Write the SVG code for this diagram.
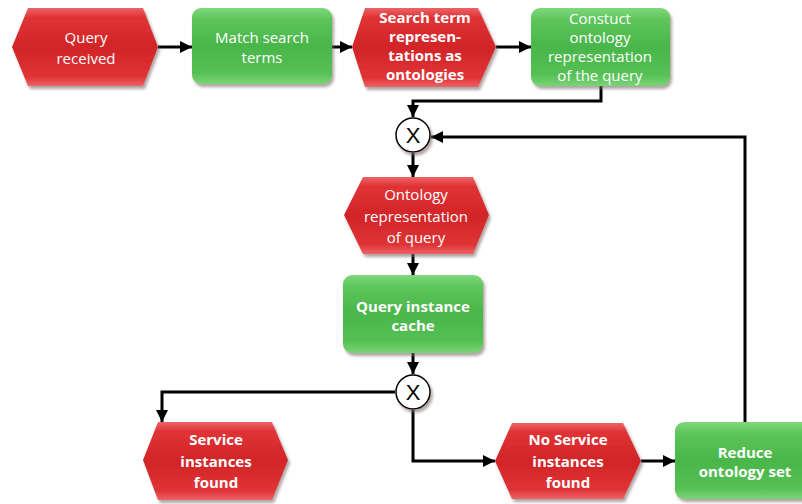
<svg xmlns="http://www.w3.org/2000/svg" width="802" height="504" viewBox="0 0 802 504">
<defs>
<linearGradient id="gRed" x1="0" y1="0" x2="0" y2="1">
<stop offset="0" stop-color="#ec6467"/>
<stop offset="0.12" stop-color="#e03336"/>
<stop offset="0.5" stop-color="#d22528"/>
<stop offset="0.88" stop-color="#e03336"/>
<stop offset="1" stop-color="#ec6467"/>
</linearGradient>
<linearGradient id="gGreen" x1="0" y1="0" x2="0" y2="1">
<stop offset="0" stop-color="#80d87c"/>
<stop offset="0.15" stop-color="#5dc55b"/>
<stop offset="0.5" stop-color="#49b64a"/>
<stop offset="0.85" stop-color="#55c054"/>
<stop offset="1" stop-color="#7ad577"/>
</linearGradient>
<filter id="sh" x="-10%" y="-10%" width="130%" height="140%">
<feDropShadow dx="2" dy="3" stdDeviation="1.5" flood-color="#7a6a66" flood-opacity="0.6"/>
</filter>
<marker id="arr" viewBox="0 0 12 12" refX="12" refY="6" markerWidth="12" markerHeight="12" markerUnits="userSpaceOnUse" orient="auto">
<path d="M0,0 L12,6 L0,12 z" fill="#000"/>
</marker>
<style>
.ev{fill:url(#gRed);filter:url(#sh);}
.fn{fill:url(#gGreen);filter:url(#sh);}
.t{font-family:"Open Sans","Liberation Sans",sans-serif;font-size:15px;fill:#fff;text-anchor:middle;}
.b{font-weight:bold;}
.c{fill:none;stroke:#000;stroke-width:3;}
.x{fill:#fff;stroke:#000;stroke-width:1.5;filter:url(#sh);}
.xt{font-family:"Liberation Sans",sans-serif;font-size:22px;fill:#000;text-anchor:middle;}
</style>
</defs>

<g id="connectors">
<path class="c" d="M158,47 L192,47" marker-end="url(#arr)"/>
<path class="c" d="M332,47 L352,47" marker-end="url(#arr)"/>
<path class="c" d="M496,47 L531,47" marker-end="url(#arr)"/>
<path class="c" d="M601,86 L601,101 L413,101 L413,117" marker-end="url(#arr)"/>
<path class="c" d="M745,422 L745,137 L431,137" marker-end="url(#arr)"/>
<path class="c" d="M413,153 L413,177" marker-end="url(#arr)"/>
<path class="c" d="M413,254 L413,275" marker-end="url(#arr)"/>
<path class="c" d="M413,353 L413,374" marker-end="url(#arr)"/>
<path class="c" d="M395,392 L162,392 L162,422" marker-end="url(#arr)"/>
<path class="c" d="M413,410 L413,461 L495,461" marker-end="url(#arr)"/>
<path class="c" d="M641,461 L675,461" marker-end="url(#arr)"/>
</g>

<g id="query-received">
<polygon class="ev" points="12,47 28,8 143,8 158,47 143,86 28,86"/>
<text class="t" x="86" y="43" font-size="16.5">Query</text>
<text class="t" x="86" y="64" font-size="16.5">received</text>
</g>

<g id="match-search-terms">
<rect class="fn" x="192" y="8" width="140" height="76" rx="9"/>
<text class="t" x="262" y="43" font-size="14.5">Match search</text>
<text class="t" x="262" y="63" font-size="14.5">terms</text>
</g>

<g id="search-term-representations">
<polygon class="ev" points="352,47 365,8 478,8 496,47 478,87 365,87"/>
<text class="t b" x="425" y="23" font-size="12.5">Search term</text>
<text class="t b" x="425" y="42" font-size="12.5">represen-</text>
<text class="t b" x="425" y="61" font-size="12.5">tations as</text>
<text class="t b" x="425" y="80" font-size="12.5">ontologies</text>
</g>

<g id="construct-ontology">
<rect class="fn" x="531" y="8" width="139" height="78" rx="9"/>
<text class="t" x="600" y="24" font-size="14">Constuct</text>
<text class="t" x="600" y="43" font-size="14">ontology</text>
<text class="t" x="600" y="62" font-size="14">representation</text>
<text class="t" x="600" y="81" font-size="14">of the query</text>
</g>

<g id="xor-1">
<circle class="x" cx="413" cy="135" r="17"/>
<text class="xt" x="413" y="143">X</text>
</g>

<g id="ontology-representation">
<polygon class="ev" points="344,215 363,177 473,177 489,215 473,254 363,254"/>
<text class="t" x="416" y="200" font-size="16.5">Ontology</text>
<text class="t" x="416" y="222" font-size="16.5">representation</text>
<text class="t" x="416" y="243" font-size="16.5">of query</text>
</g>

<g id="query-instance-cache">
<rect class="fn" x="343" y="275" width="140" height="78" rx="9"/>
<text class="t b" x="413" y="312">Query instance</text>
<text class="t b" x="413" y="331">cache</text>
</g>

<g id="xor-2">
<circle class="x" cx="413" cy="392" r="17"/>
<text class="xt" x="413" y="400">X</text>
</g>

<g id="service-instances-found">
<polygon class="ev" points="143,460 158,422 272,422 288,460 272,500 158,500"/>
<text class="t b" x="216" y="445">Service</text>
<text class="t b" x="216" y="467">instances</text>
<text class="t b" x="216" y="488">found</text>
</g>

<g id="no-service-instances-found">
<polygon class="ev" points="495,461 512,423 623,423 641,461 623,499 512,499"/>
<text class="t b" x="568" y="445">No Service</text>
<text class="t b" x="568" y="467">instances</text>
<text class="t b" x="568" y="488">found</text>
</g>

<g id="reduce-ontology-set">
<rect class="fn" x="675" y="422" width="140" height="77" rx="9"/>
<text class="t b" x="745" y="458">Reduce</text>
<text class="t b" x="745" y="477">ontology set</text>
</g>
</svg>
